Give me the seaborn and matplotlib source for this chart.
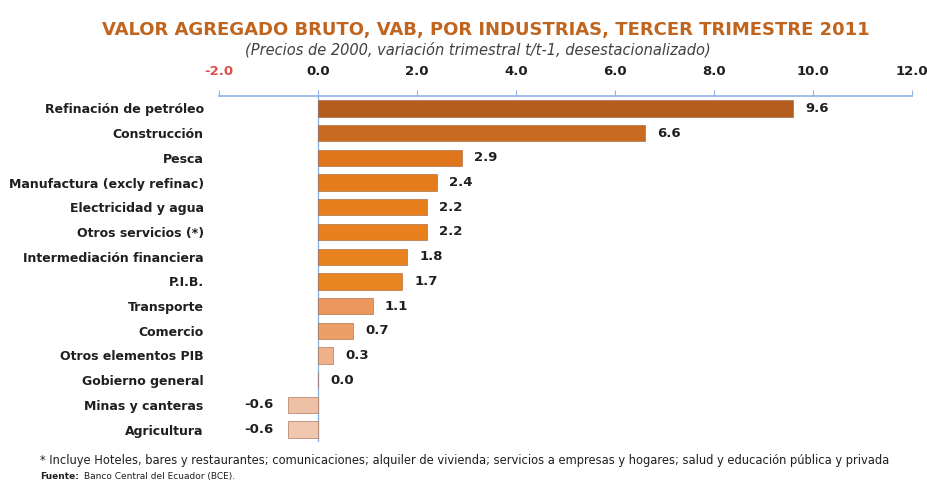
import matplotlib
matplotlib.use('Agg')

import matplotlib.pyplot as plt
import seaborn as sns
import pandas as pd

industrias = ['Refinación de petróleo', 'Construcción', 'Pesca',
              'Manufactura (excly refinac)', 'Electricidad y agua',
              'Otros servicios (*)', 'Intermediación financiera', 'P.I.B.',
              'Transporte', 'Comercio', 'Otros elementos PIB',
              'Gobierno general', 'Minas y canteras', 'Agricultura']
variacion = [9.6, 6.6, 2.9, 2.4, 2.2, 2.2, 1.8, 1.7, 1.1, 0.7, 0.3, 0.0, -0.6, -0.6]
ticks = [-2.0, 0.0, 2.0, 4.0, 6.0, 8.0, 10.0, 12.0]

df = pd.DataFrame({'industria': industrias, 'variacion': variacion})

sns.set_style('white')
plt.rcParams['font.family'] = ['DejaVu Sans']

# colores aproximados del degradado del original
colores = ['#b55d1e', '#c86a20', '#df761c', '#e47c1c', '#e67e1c', '#e8801e', '#e8821f',
           '#e98520', '#ec985c', '#ed9f68', '#efb08c', '#b8a090', '#eec0a6', '#efc6ae']

fig = plt.figure(figsize=(9.28, 4.83), dpi=100)
ax = fig.add_axes([0.236, 0.085, 0.747, 0.716])

sns.barplot(data=df, x='variacion', y='industria', hue='industria', palette=colores,
            saturation=1, legend=False, width=0.66, edgecolor='#a0603a', linewidth=0.4, ax=ax)

ax.set_xlim(-2, 12)
ax.set_xticks(ticks)
ax.xaxis.tick_top()
ax.set_xticklabels([f'{t:.1f}' for t in ticks], fontsize=9.5, fontweight='bold', color='#1f1f1f')
ax.get_xticklabels()[0].set_color('#e0504a')
ax.tick_params(axis='x', which='both', top=True, length=4, color='#8eb4e3', pad=9)
ax.tick_params(axis='y', length=0, pad=11)
for lab in ax.get_yticklabels():
    lab.set_fontsize(9)
    lab.set_fontweight('bold')
    lab.set_color('#1f1f1f')
ax.set_xlabel('')
ax.set_ylabel('')

for s in ['left', 'right', 'bottom']:
    ax.spines[s].set_visible(False)
ax.spines['top'].set_color('#8eb4e3')
ax.spines['top'].set_linewidth(1.2)
ax.axvline(0, color='#8eb4e3', lw=1.0, zorder=0)

for i, v in enumerate(variacion):
    if v < 0:
        ax.text(v - 0.3, i, f'{v:.1f}', ha='right', va='center', fontsize=9.5,
                fontweight='bold', color='#1f1f1f')
    else:
        ax.text(v + 0.25, i, f'{v:.1f}', ha='left', va='center', fontsize=9.5,
                fontweight='bold', color='#1f1f1f')

fig.text(0.523, 0.938, 'VALOR AGREGADO BRUTO, VAB, POR INDUSTRIAS, TERCER TRIMESTRE 2011',
         ha='center', va='center', fontsize=13, fontweight='bold', color='#c0641e')
fig.text(0.515, 0.898, '(Precios de 2000, variación trimestral t/t-1, desestacionalizado)',
         ha='center', va='center', fontsize=10.5, style='italic', color='#404040')
fig.text(0.043, 0.047, '* Incluye Hoteles, bares y restaurantes; comunicaciones; alquiler de vivienda; '
         'servicios a empresas y hogares; salud y educación pública y privada',
         ha='left', va='center', fontsize=8.3, color='#1f1f1f')
fig.text(0.043, 0.014, 'Fuente:', ha='left', va='center', fontsize=6.5,
         fontweight='bold', color='#1f1f1f')
fig.text(0.090, 0.014, 'Banco Central del Ecuador (BCE).', ha='left', va='center',
         fontsize=6.5, color='#1f1f1f')

fig.savefig('out.png', dpi=100)
